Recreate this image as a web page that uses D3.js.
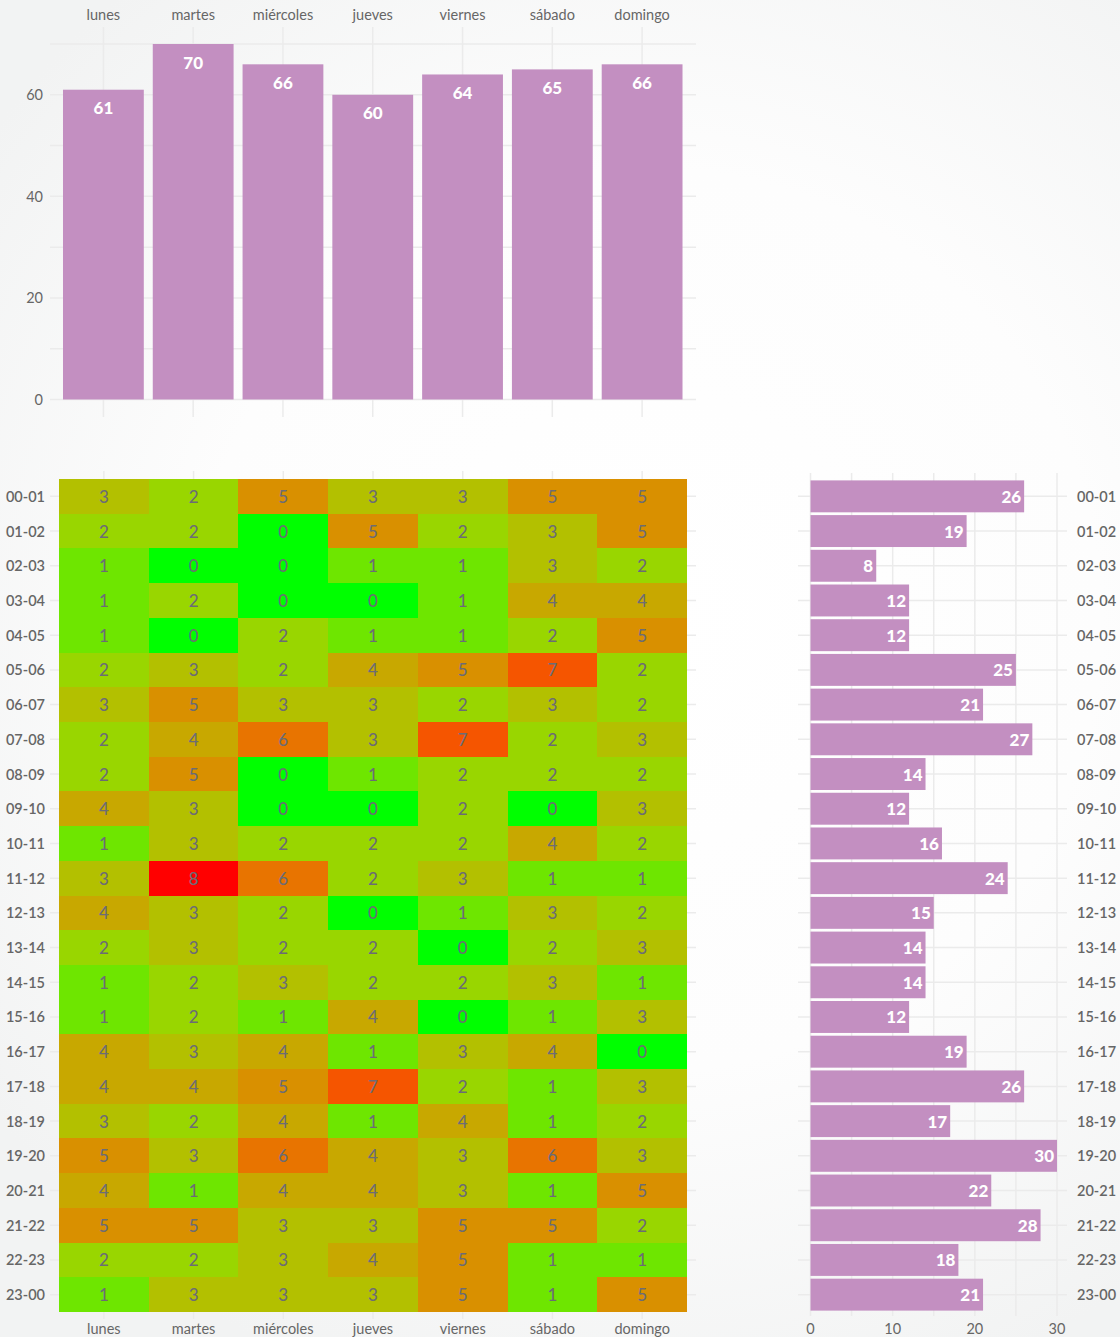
<!DOCTYPE html>
<html>
<head>
<meta charset="utf-8">
<script src="https://cdn.jsdelivr.net/npm/d3@7"></script>
<style>
  html, body { margin: 0; padding: 0; }
  body { width: 1120px; height: 1337px; overflow: hidden; font-family: Lato, "Noto Sans", sans-serif; }
  .lbl { fill: #666; font-size: 14.5px; }
  .grid { stroke: #ebebeb; stroke-width: 1.5; }
</style>
</head>
<body>
<div id="chart"></div>
<script>
// data
const days = ['lunes', 'martes', 'miércoles', 'jueves', 'viernes', 'sábado', 'domingo']
const hours = ['00-01', '01-02', '02-03', '03-04', '04-05', '05-06', '06-07', '07-08',
  '08-09', '09-10', '10-11', '11-12', '12-13', '13-14', '14-15', '15-16',
  '16-17', '17-18', '18-19', '19-20', '20-21', '21-22', '22-23', '23-00']
const dayTotals = [61, 70, 66, 60, 64, 65, 66]
const hourTotals = [26, 19, 8, 12, 12, 25, 21, 27, 14, 12, 16, 24, 15, 14, 14, 12, 19, 26, 17, 30, 22, 28, 18, 21]
// one row per hour, one value per day
const counts = [
  [3, 2, 5, 3, 3, 5, 5],
  [2, 2, 0, 5, 2, 3, 5],
  [1, 0, 0, 1, 1, 3, 2],
  [1, 2, 0, 0, 1, 4, 4],
  [1, 0, 2, 1, 1, 2, 5],
  [2, 3, 2, 4, 5, 7, 2],
  [3, 5, 3, 3, 2, 3, 2],
  [2, 4, 6, 3, 7, 2, 3],
  [2, 5, 0, 1, 2, 2, 2],
  [4, 3, 0, 0, 2, 0, 3],
  [1, 3, 2, 2, 2, 4, 2],
  [3, 8, 6, 2, 3, 1, 1],
  [4, 3, 2, 0, 1, 3, 2],
  [2, 3, 2, 2, 0, 2, 3],
  [1, 2, 3, 2, 2, 3, 1],
  [1, 2, 1, 4, 0, 1, 3],
  [4, 3, 4, 1, 3, 4, 0],
  [4, 4, 5, 7, 2, 1, 3],
  [3, 2, 4, 1, 4, 1, 2],
  [5, 3, 6, 4, 3, 6, 3],
  [4, 1, 4, 4, 3, 1, 5],
  [5, 5, 3, 3, 5, 5, 2],
  [2, 2, 3, 4, 5, 1, 1],
  [1, 3, 3, 3, 5, 1, 5],
]
const yTicks = [0, 20, 40, 60]
const xTicks = [0, 10, 20, 30]

const W = 1120, H = 1337
const barColor = '#c38fc1'
const heatColors = ['#00ff00', '#6ee600', '#99d600', '#b3c000', '#c8a800', '#d99000', '#e87400', '#f55500', '#ff0000']

const svg = d3.select('#chart').append('svg')
  .attr('width', W)
  .attr('height', H)

const grad = svg.append('defs').append('radialGradient')
  .attr('id', 'bg')
  .attr('gradientUnits', 'userSpaceOnUse')
  .attr('cx', 650).attr('cy', 620).attr('r', 820)
grad.append('stop').attr('offset', '0%').attr('stop-color', '#ffffff')
grad.append('stop').attr('offset', '55%').attr('stop-color', '#fdfdfd')
grad.append('stop').attr('offset', '100%').attr('stop-color', '#f2f3f3')
svg.append('rect').attr('width', W).attr('height', H).attr('fill', 'url(#bg)')

// ---- top: totals per day
const xDay = d3.scaleBand().domain(days).range([58.5, 687]).paddingInner(0.1).paddingOuter(0.05)
const yDay = d3.scaleLinear().domain([0, 70]).range([399.5, 44])

const dayChart = svg.append('g')
dayChart.selectAll('.hg').data(d3.range(0, 71, 10)).join('line')
  .attr('class', 'grid')
  .attr('x1', 50).attr('x2', 696)
  .attr('y1', d => yDay(d)).attr('y2', d => yDay(d))
dayChart.selectAll('.vg').data(days).join('line')
  .attr('class', 'grid')
  .attr('x1', d => xDay(d) + xDay.bandwidth() / 2).attr('x2', d => xDay(d) + xDay.bandwidth() / 2)
  .attr('y1', 27).attr('y2', 417)

dayChart.selectAll('.bar').data(days).join('rect')
  .attr('x', d => xDay(d))
  .attr('width', xDay.bandwidth())
  .attr('y', (d, i) => yDay(dayTotals[i]))
  .attr('height', (d, i) => yDay(0) - yDay(dayTotals[i]))
  .attr('fill', barColor)

dayChart.selectAll('.val').data(days).join('text')
  .attr('x', d => xDay(d) + xDay.bandwidth() / 2)
  .attr('y', (d, i) => yDay(dayTotals[i]) + 18)
  .attr('text-anchor', 'middle')
  .attr('dominant-baseline', 'central')
  .attr('fill', '#fff')
  .attr('font-size', 17)
  .attr('font-weight', 900)
  .text((d, i) => dayTotals[i])

dayChart.selectAll('.dl').data(days).join('text')
  .attr('class', 'lbl')
  .attr('x', d => xDay(d) + xDay.bandwidth() / 2)
  .attr('y', 14)
  .attr('text-anchor', 'middle')
  .attr('dominant-baseline', 'central')
  .text(d => d)

dayChart.selectAll('.yl').data(yTicks).join('text')
  .attr('class', 'lbl')
  .attr('x', 43)
  .attr('y', d => yDay(d))
  .attr('text-anchor', 'end')
  .attr('dominant-baseline', 'central')
  .text(d => d)

// ---- heatmap
const xCol = d3.scaleBand().domain(days).range([59, 687])
const yRow = d3.scaleBand().domain(hours).range([479, 1312])
const color = d3.scaleOrdinal().domain(d3.range(9)).range(heatColors)

const heat = svg.append('g')
heat.selectAll('.hg').data(hours).join('line')
  .attr('class', 'grid')
  .attr('x1', 50).attr('x2', 696)
  .attr('y1', d => yRow(d) + yRow.bandwidth() / 2).attr('y2', d => yRow(d) + yRow.bandwidth() / 2)
heat.selectAll('.vg').data(days).join('line')
  .attr('class', 'grid')
  .attr('x1', d => xCol(d) + xCol.bandwidth() / 2).attr('x2', d => xCol(d) + xCol.bandwidth() / 2)
  .attr('y1', 471).attr('y2', 1319)

const cells = counts.flatMap((row, r) => row.map((v, c) => ({ hour: hours[r], day: days[c], v })))
heat.selectAll('.cell').data(cells).join('rect')
  .attr('x', d => xCol(d.day))
  .attr('y', d => yRow(d.hour))
  .attr('width', xCol.bandwidth())
  .attr('height', yRow.bandwidth())
  .attr('fill', d => color(d.v))
  .attr('shape-rendering', 'crispEdges')

heat.selectAll('.cv').data(cells).join('text')
  .attr('x', d => xCol(d.day) + xCol.bandwidth() / 2)
  .attr('y', d => yRow(d.hour) + yRow.bandwidth() / 2)
  .attr('text-anchor', 'middle')
  .attr('dominant-baseline', 'central')
  .attr('fill', '#6c6c76')
  .attr('font-size', 17)
  .attr('font-weight', 500)
  .text(d => d.v)

heat.selectAll('.rl').data(hours).join('text')
  .attr('class', 'lbl')
  .attr('x', 45)
  .attr('y', d => yRow(d) + yRow.bandwidth() / 2)
  .attr('text-anchor', 'end')
  .attr('dominant-baseline', 'central')
  .attr('font-weight', 600)
  .text(d => d)

heat.selectAll('.bl').data(days).join('text')
  .attr('class', 'lbl')
  .attr('x', d => xCol(d) + xCol.bandwidth() / 2)
  .attr('y', 1328)
  .attr('text-anchor', 'middle')
  .attr('dominant-baseline', 'central')
  .text(d => d)

// ---- right: totals per hour
const xHour = d3.scaleLinear().domain([0, 30]).range([810.5, 1057])
const yBar = d3.scaleBand().domain(hours).range([479, 1312]).paddingInner(0.08).paddingOuter(0.04)

const side = svg.append('g')
side.selectAll('.vg').data(d3.range(0, 31, 5)).join('line')
  .attr('class', 'grid')
  .attr('x1', d => xHour(d)).attr('x2', d => xHour(d))
  .attr('y1', 473).attr('y2', 1316)
side.selectAll('.hg').data(hours).join('line')
  .attr('class', 'grid')
  .attr('x1', 798).attr('x2', 1067)
  .attr('y1', d => yRow(d) + yRow.bandwidth() / 2).attr('y2', d => yRow(d) + yRow.bandwidth() / 2)

side.selectAll('.bar').data(hours).join('rect')
  .attr('x', xHour(0))
  .attr('y', d => yBar(d))
  .attr('width', (d, i) => xHour(hourTotals[i]) - xHour(0))
  .attr('height', yBar.bandwidth())
  .attr('fill', barColor)

side.selectAll('.val').data(hours).join('text')
  .attr('x', (d, i) => xHour(hourTotals[i]) - 3)
  .attr('y', d => yBar(d) + yBar.bandwidth() / 2)
  .attr('text-anchor', 'end')
  .attr('dominant-baseline', 'central')
  .attr('fill', '#fff')
  .attr('font-size', 17)
  .attr('font-weight', 900)
  .text((d, i) => hourTotals[i])

side.selectAll('.rl').data(hours).join('text')
  .attr('class', 'lbl')
  .attr('x', 1077)
  .attr('y', d => yRow(d) + yRow.bandwidth() / 2)
  .attr('dominant-baseline', 'central')
  .attr('font-weight', 600)
  .text(d => d)

side.selectAll('.xl').data(xTicks).join('text')
  .attr('class', 'lbl')
  .attr('x', d => xHour(d))
  .attr('y', 1328)
  .attr('text-anchor', 'middle')
  .attr('dominant-baseline', 'central')
  .text(d => d)
</script>
</body>
</html>
